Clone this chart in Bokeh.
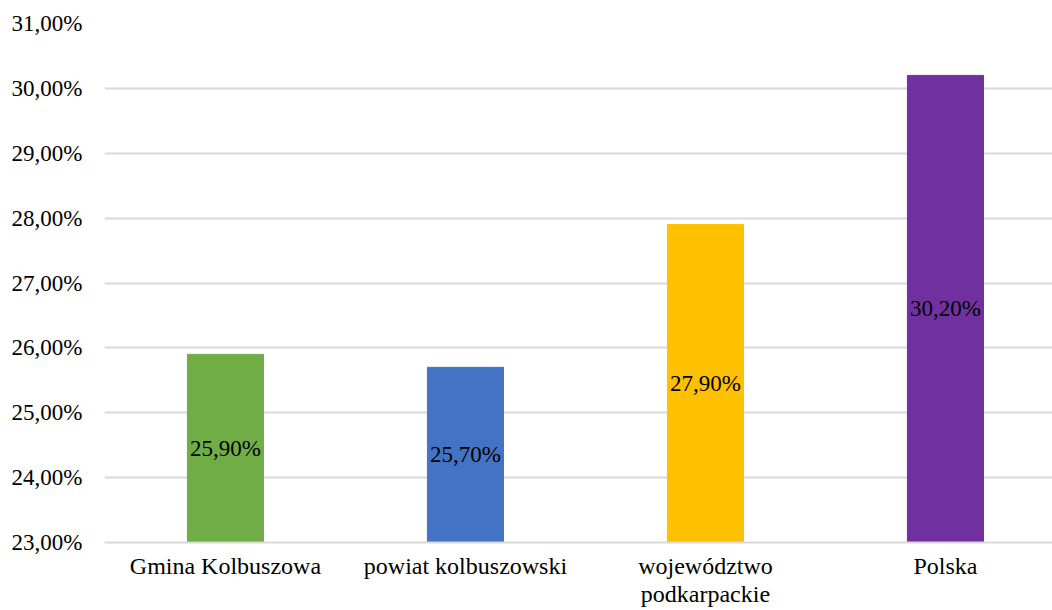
from bokeh.plotting import figure
from bokeh.models import Range1d, ColumnDataSource, FixedTicker
from bokeh.core.properties import value
from bokeh.embed import file_html
from bokeh.resources import INLINE

categories = ["Gmina Kolbuszowa", "powiat kolbuszowski", "województwo\npodkarpackie", "Polska"]
values = [25.9, 25.7, 27.9, 30.2]
colors = ["#70AD47", "#4472C4", "#FFC000", "#7030A0"]
y_ticks = [23, 24, 25, 26, 27, 28, 29, 30, 31]

FONT = "Liberation Serif"
base = 23.0

def pl(v):
    return ("%.2f" % v).replace(".", ",") + "%"

xs = list(range(len(categories)))
src = ColumnDataSource(dict(
    x=xs,
    top=values,
    color=colors,
    mid=[(base + v) / 2 for v in values],
    label=[pl(v) for v in values],
))

p = figure(width=1052, height=610, output_backend="svg", toolbar_location=None,
           x_range=Range1d(-0.504, 3.446), y_range=Range1d(23, 31),
           min_border_left=104, min_border_right=0, min_border_top=23, min_border_bottom=0)
p.outline_line_color = None

p.vbar(x="x", top="top", bottom=base, width=0.317, color="color", source=src)
p.text(x="x", y="mid", text="label", source=src, text_align="center", text_baseline="middle",
       text_font=value(FONT), text_font_size="23px", text_color="black")

p.yaxis.ticker = FixedTicker(ticks=y_ticks)
p.yaxis.major_label_overrides = {t: pl(t) for t in y_ticks}
p.yaxis.axis_line_color = None
p.yaxis.major_tick_line_color = None
p.yaxis.minor_tick_line_color = None
p.yaxis.major_tick_out = 0
p.yaxis.major_tick_in = 0
p.yaxis.major_label_standoff = 22
p.yaxis.major_label_text_font = FONT
p.yaxis.major_label_text_font_size = "23px"
p.yaxis.major_label_text_color = "#000000"

p.xaxis.ticker = FixedTicker(ticks=xs)
p.xaxis.major_label_overrides = {i: c for i, c in enumerate(categories)}
p.xaxis.axis_line_color = "#d9d9d9"
p.xaxis.axis_line_width = 2
p.xaxis.major_tick_line_color = None
p.xaxis.minor_tick_line_color = None
p.xaxis.major_tick_out = 0
p.xaxis.major_tick_in = 0
p.xaxis.major_label_standoff = 10
p.xaxis.major_label_text_line_height = 1.1
p.xaxis.major_label_text_font = FONT
p.xaxis.major_label_text_font_size = "24px"
p.xaxis.major_label_text_color = "#000000"

p.xgrid.grid_line_color = None
p.ygrid.grid_line_color = "#d9d9d9"
p.ygrid.grid_line_width = 2

open("out.html", "w").write(file_html(p, INLINE))
